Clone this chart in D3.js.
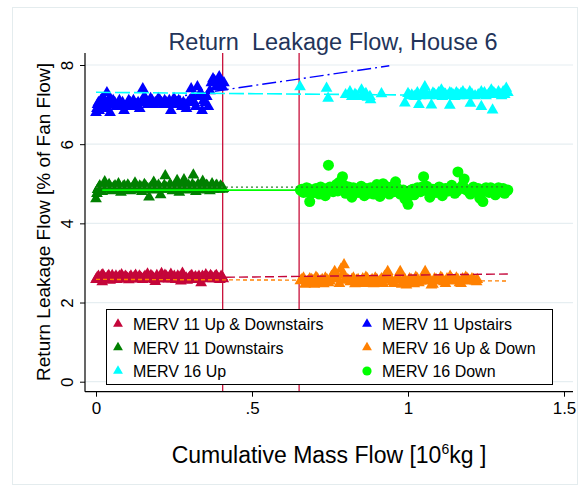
<!DOCTYPE html>
<html><head><meta charset="utf-8">
<script src="https://cdn.jsdelivr.net/npm/d3@7"></script>
<style>
body{margin:0;background:#fff}
svg{display:block}
text{font-family:"Liberation Sans",Arial,Helvetica,sans-serif}
</style>
</head><body>
<svg id="chart" width="586" height="487"></svg>
<script>
// ---------- data ----------
const titleText = "Return  Leakage Flow, House 6";
const xTicks = [0, 0.5, 1, 1.5];
const xTickLabels = ["0", ".5", "1", "1.5"];
const yTicks = [0, 2, 4, 6, 8];
const yTickLabels = ["0", "2", "4", "6", "8"];
const filterChanges = [0.406, 0.651];

const merv11UpDown = [
[0.000,2.58],[0.008,2.66],[0.015,2.62],[0.020,2.52],[0.022,2.70],[0.030,2.60],[0.037,2.65],[0.045,2.56],[0.052,2.68],
[0.060,2.62],[0.067,2.58],[0.075,2.66],[0.082,2.70],[0.090,2.60],[0.097,2.64],[0.105,2.57],[0.112,2.67],
[0.120,2.62],[0.127,2.69],[0.135,2.60],[0.142,2.64],[0.150,2.58],[0.157,2.66],[0.165,2.72],[0.172,2.61],
[0.180,2.65],[0.187,2.58],[0.190,2.53],[0.195,2.68],[0.202,2.62],[0.210,2.73],[0.217,2.60],[0.225,2.66],[0.232,2.59],
[0.240,2.71],[0.247,2.63],[0.255,2.58],[0.262,2.67],[0.270,2.61],[0.272,2.54],[0.277,2.74],[0.285,2.60],[0.292,2.56],
[0.300,2.64],[0.307,2.68],[0.315,2.62],[0.322,2.58],[0.330,2.66],[0.337,2.50],[0.345,2.63],[0.352,2.70],
[0.360,2.62],[0.367,2.68],[0.375,2.60],[0.382,2.66],[0.390,2.62],[0.397,2.58],[0.405,2.64],
[0.004,2.63],[0.012,2.60],[0.018,2.68],[0.026,2.64],[0.034,2.58],[0.041,2.68],[0.048,2.62],[0.056,2.60],
[0.064,2.67],[0.071,2.62],[0.079,2.60],[0.086,2.64],[0.094,2.66],[0.101,2.61],[0.108,2.63],[0.116,2.59],
[0.124,2.65],[0.131,2.62],[0.139,2.67],[0.146,2.61],[0.154,2.63],[0.161,2.60],[0.169,2.65],[0.176,2.68],
[0.184,2.62],[0.199,2.60],[0.206,2.65],[0.214,2.63],[0.221,2.69],[0.229,2.62],[0.236,2.65],[0.244,2.60],
[0.251,2.66],[0.259,2.62],[0.266,2.64],[0.281,2.66],[0.289,2.62],[0.296,2.60],[0.304,2.66],[0.311,2.60],
[0.319,2.65],[0.326,2.62],[0.334,2.60],[0.341,2.66],[0.349,2.61],[0.356,2.64],[0.364,2.60],[0.371,2.65],
[0.379,2.62],[0.386,2.68],[0.394,2.60],[0.401,2.66],[0.408,2.60]
];
const merv11Up = [
[0.000,6.80],[0.005,7.00],[0.010,6.85],[0.015,7.10],[0.020,7.15],[0.025,6.90],[0.030,7.05],[0.035,7.30],
[0.040,7.10],[0.045,6.80],[0.050,7.00],[0.060,7.05],[0.070,7.00],[0.080,6.95],[0.090,6.85],[0.100,7.00],
[0.110,7.05],[0.120,7.10],[0.130,7.00],[0.140,6.90],[0.150,7.40],[0.155,7.20],[0.160,7.10],[0.170,7.05],
[0.180,7.10],[0.190,7.05],[0.200,7.15],[0.210,7.05],[0.220,7.10],[0.230,7.00],[0.240,6.85],[0.250,7.15],
[0.260,7.00],[0.270,7.05],[0.280,7.05],[0.290,6.90],[0.300,7.10],[0.305,7.40],[0.310,7.20],[0.320,6.95],
[0.325,7.45],[0.330,7.20],[0.340,6.85],[0.350,7.05],[0.360,6.95],[0.370,7.55],[0.375,7.65],[0.380,7.60],
[0.390,7.55],[0.395,7.70],[0.400,7.60],[0.410,7.55],
[0.003,6.90],[0.008,7.05],[0.012,6.95],[0.018,7.00],[0.028,7.10],[0.033,6.95],[0.043,7.15],[0.055,7.10],
[0.065,6.95],[0.075,7.10],[0.085,7.05],[0.095,6.95],[0.105,7.10],[0.115,6.95],[0.125,7.00],[0.135,7.05],
[0.145,7.05],[0.165,7.00],[0.175,7.15],[0.185,7.00],[0.195,7.05],[0.205,7.10],[0.215,7.00],[0.225,7.05],
[0.235,7.10],[0.245,7.00],[0.255,7.05],[0.265,7.10],[0.275,6.95],[0.285,7.00],[0.295,7.05],[0.315,7.05],
[0.335,7.30],[0.345,7.10],[0.355,7.20],[0.365,7.35],[0.385,7.45],[0.405,7.45]
];
const merv11Down = [
[0.000,4.62],[0.005,4.85],[0.012,4.95],[0.020,4.80],[0.028,5.05],[0.035,4.88],[0.042,4.98],[0.050,4.82],
[0.057,4.92],[0.065,4.85],[0.072,5.00],[0.080,4.78],[0.087,4.93],[0.095,4.86],[0.102,4.97],[0.110,4.82],
[0.117,4.90],[0.125,5.02],[0.132,4.84],[0.140,4.94],[0.147,4.80],[0.155,4.98],[0.162,4.86],[0.170,4.66],
[0.177,4.92],[0.185,5.04],[0.192,4.84],[0.200,4.96],[0.207,4.72],[0.215,4.90],[0.222,5.20],[0.230,4.86],
[0.237,4.98],[0.245,4.82],[0.252,4.92],[0.260,5.08],[0.267,4.78],[0.275,4.94],[0.282,5.10],[0.290,4.84],
[0.297,4.96],[0.305,4.88],[0.312,5.22],[0.320,4.80],[0.327,4.98],[0.335,4.86],[0.342,5.06],[0.350,4.84],
[0.357,4.94],[0.365,4.82],[0.372,5.00],[0.380,4.88],[0.387,4.96],[0.395,4.86],[0.402,4.92],[0.408,4.88],
[0.003,4.75],[0.009,4.90],[0.016,4.88],[0.024,4.92],[0.031,4.90],[0.039,4.86],[0.046,4.92],[0.054,4.88],
[0.061,4.95],[0.069,4.88],[0.076,4.92],[0.084,4.86],[0.091,4.95],[0.099,4.88],[0.106,4.92],[0.114,4.86],
[0.121,4.94],[0.129,4.90],[0.136,4.88],[0.144,4.92],[0.151,4.86],[0.159,4.94],[0.166,4.88],[0.174,4.90],
[0.181,4.86],[0.189,4.94],[0.196,4.88],[0.204,4.92],[0.211,4.86],[0.219,4.96],[0.226,4.90],[0.234,4.88],
[0.241,4.94],[0.249,4.86],[0.256,4.96],[0.264,4.88],[0.271,4.92],[0.279,4.86],[0.286,4.96],[0.294,4.90],
[0.301,4.86],[0.309,4.98],[0.316,4.92],[0.324,4.88],[0.331,4.94],[0.339,4.90],[0.346,4.86],[0.354,4.96],
[0.361,4.88],[0.369,4.92],[0.376,4.86],[0.384,4.94],[0.391,4.88],[0.399,4.94],[0.405,4.86]
];
const merv16Up = [
[0.654,7.45],[0.739,7.41],[0.744,7.16],[0.800,7.25],[0.814,7.32],[0.820,7.20],[0.830,7.26],[0.851,7.37],
[0.850,7.20],[0.865,7.28],[0.878,7.20],[0.880,7.12],[0.915,7.27],[0.990,7.04],[1.005,7.22],[1.020,7.21],
[1.030,7.30],[1.035,7.00],[1.045,7.26],[1.054,7.45],[1.060,7.25],[1.075,6.99],[1.080,7.29],[1.090,7.22],
[1.107,7.37],[1.110,7.20],[1.120,7.26],[1.134,6.98],[1.134,7.30],[1.145,7.24],[1.155,7.30],[1.165,7.22],
[1.176,7.32],[1.185,7.25],[1.198,7.32],[1.200,7.03],[1.215,7.22],[1.235,7.32],[1.235,6.95],[1.250,7.22],
[1.267,7.37],[1.271,6.86],[1.280,7.25],[1.290,7.32],[1.300,7.22],[1.315,7.41],[1.310,7.25],[1.320,7.30],
[1.000,7.28],[1.012,7.24],[1.025,7.20],[1.040,7.22],[1.050,7.30],[1.068,7.22],[1.085,7.26],[1.098,7.30],
[1.115,7.28],[1.128,7.22],[1.140,7.28],[1.150,7.20],[1.160,7.26],[1.170,7.28],[1.190,7.22],[1.205,7.26],
[1.225,7.25],[1.245,7.30],[1.258,7.26],[1.275,7.30],[1.295,7.26],[1.305,7.32],[0.835,7.22],[0.860,7.24],
[0.870,7.18]
];
const merv16UpDown = [
[0.655,2.55],[0.665,2.62],[0.675,2.50],[0.685,2.60],[0.695,2.56],[0.705,2.64],[0.715,2.48],[0.725,2.58],
[0.735,2.62],[0.745,2.50],[0.755,2.66],[0.765,2.78],[0.775,2.60],[0.785,2.84],[0.795,2.95],[0.805,2.58],
[0.815,2.52],[0.825,2.62],[0.835,2.56],[0.845,2.48],[0.855,2.60],[0.865,2.64],[0.875,2.52],[0.885,2.58],
[0.895,2.62],[0.905,2.50],[0.915,2.60],[0.925,2.66],[0.935,2.78],[0.945,2.56],[0.955,2.48],[0.965,2.62],
[0.975,2.78],[0.985,2.58],[0.995,2.44],[1.005,2.60],[1.015,2.54],[1.025,2.64],[1.035,2.50],[1.045,2.62],
[1.055,2.78],[1.065,2.58],[1.075,2.44],[1.085,2.60],[1.095,2.54],[1.105,2.64],[1.115,2.52],[1.125,2.60],
[1.135,2.66],[1.145,2.54],[1.155,2.62],[1.165,2.50],[1.175,2.60],[1.185,2.64],[1.195,2.56],[1.205,2.60],
[1.215,2.54],[1.222,2.58],
[0.660,2.58],[0.670,2.46],[0.680,2.54],[0.690,2.58],[0.700,2.46],[0.710,2.60],[0.720,2.54],[0.730,2.47],
[0.740,2.58],[0.750,2.54],[0.760,2.60],[0.770,2.66],[0.780,2.48],[0.790,2.70],[0.800,2.62],[0.810,2.56],
[0.820,2.58],[0.830,2.47],[0.840,2.58],[0.850,2.54],[0.860,2.48],[0.870,2.60],[0.880,2.54],[0.890,2.47],
[0.900,2.58],[0.910,2.54],[0.920,2.48],[0.930,2.60],[0.940,2.66],[0.950,2.52],[0.960,2.56],[0.970,2.60],
[0.980,2.46],[0.990,2.58],[1.000,2.52],[1.010,2.58],[1.020,2.47],[1.030,2.60],[1.040,2.54],[1.050,2.66],
[1.060,2.54],[1.070,2.58],[1.080,2.46],[1.090,2.58],[1.100,2.56],[1.110,2.60],[1.120,2.48],[1.130,2.58],
[1.140,2.60],[1.150,2.56],[1.160,2.58],[1.170,2.48],[1.180,2.56],[1.190,2.60],[1.200,2.54],[1.210,2.58],
[1.220,2.52]
];
const merv16Down = [
[0.655,4.84],[0.665,4.78],[0.675,4.90],[0.685,4.55],[0.695,4.82],[0.705,4.88],[0.715,4.74],[0.725,4.86],
[0.735,4.70],[0.745,5.47],[0.750,4.92],[0.760,4.80],[0.770,4.98],[0.780,5.04],[0.790,5.18],[0.800,4.76],
[0.810,4.92],[0.820,4.66],[0.830,4.86],[0.840,4.78],[0.850,4.94],[0.860,4.70],[0.870,4.84],[0.880,4.90],
[0.890,4.74],[0.900,4.98],[0.910,4.68],[0.920,5.00],[0.930,4.82],[0.940,4.74],[0.950,4.92],[0.960,5.05],
[0.970,4.86],[0.980,4.78],[0.990,4.62],[1.000,4.48],[1.010,4.84],[1.020,4.72],[1.030,4.90],[1.040,4.80],
[1.050,5.18],[1.060,4.94],[1.070,4.66],[1.080,4.86],[1.090,4.78],[1.100,4.92],[1.110,4.70],[1.120,4.88],
[1.130,4.82],[1.140,4.96],[1.150,4.76],[1.160,5.30],[1.170,4.90],[1.180,5.12],[1.190,4.84],[1.200,4.74],
[1.210,4.92],[1.220,4.80],[1.230,4.64],[1.240,4.55],[1.250,4.90],[1.260,4.78],[1.270,4.86],[1.280,4.72],
[1.290,4.90],[1.300,4.82],[1.310,4.76],[1.320,4.84],
[0.660,4.86],[0.670,4.80],[0.680,4.88],[0.690,4.76],[0.700,4.84],[0.710,4.80],[0.720,4.92],[0.730,4.82],
[0.740,4.88],[0.755,4.84],[0.765,4.90],[0.775,4.82],[0.785,4.92],[0.795,4.96],[0.805,4.86],[0.815,4.80],
[0.825,4.90],[0.835,4.82],[0.845,4.86],[0.855,4.80],[0.865,4.88],[0.875,4.76],[0.885,4.84],[0.895,4.80],
[0.905,4.88],[0.915,4.82],[0.925,4.86],[0.935,4.92],[0.945,4.84],[0.955,4.80],[0.965,4.88],[0.975,4.74],
[0.985,4.84],[0.995,4.80],[1.005,4.70],[1.015,4.86],[1.025,4.80],[1.035,4.84],[1.045,4.92],[1.055,4.88],
[1.065,4.80],[1.075,4.86],[1.085,4.82],[1.095,4.88],[1.105,4.80],[1.115,4.86],[1.125,4.82],[1.135,4.90],
[1.145,4.84],[1.155,4.80],[1.165,4.88],[1.175,4.96],[1.185,4.86],[1.195,4.80],[1.205,4.86],[1.215,4.82],
[1.225,4.88],[1.235,4.76],[1.245,4.84],[1.255,4.82],[1.265,4.90],[1.275,4.80],[1.285,4.86],[1.295,4.80],
[1.305,4.88],[1.315,4.82]
];

// linear-fit endpoints
const fitMerv11UpDown = [[0.000,2.60],[1.320,2.72]];
const fitMerv16UpDown = [[0.000,2.585],[1.320,2.545]];
const fitMerv11Up     = [[0.000,6.90],[0.940,7.98]];
const fitMerv16Up     = [[0.000,7.31],[1.320,7.22]];
const fitMerv11Down   = [[0.000,4.91],[1.310,4.92]];
const fitMerv16Down   = [[0.020,4.84],[1.320,4.84]];

const legendLabels = ["MERV 11 Up & Downstairs","MERV 11 Upstairs","MERV 11 Downstairs",
                      "MERV 16 Up & Down","MERV 16 Up","MERV 16 Down"];

// ---------- drawing ----------
const svg = d3.select("#chart");
const x = d3.scaleLinear().domain([0, 1.5]).range([96, 564]);
const y = d3.scaleLinear().domain([0, 8]).range([381.7, 65]);
const plotL = 85, plotR = 573, plotT = 53, plotB = 391.7;

// graph region frame
svg.append("rect").attr("x",12.5).attr("y",7.5).attr("width",565).attr("height",477)
  .attr("fill","#fff").attr("stroke","#e4ecee").attr("stroke-width",1);

// grid
svg.append("g").selectAll("line").data(yTicks).join("line")
  .attr("x1",plotL).attr("x2",plotR).attr("y1",d=>y(d)).attr("y2",d=>y(d))
  .attr("stroke","#e6eef1").attr("stroke-width",1.2);

// vertical filter change lines
svg.append("g").selectAll("line").data(filterChanges).join("line")
  .attr("x1",d=>x(d)).attr("x2",d=>x(d)).attr("y1",plotT).attr("y2",plotB)
  .attr("stroke","#c8103a").attr("stroke-width",1.3);

const colors = {
  m11ud:"#c4063a", m11u:"#0000ff", m11d:"#008000",
  m16ud:"#ff8000", m16u:"#00ffff", m16d:"#00ff00"
};
const tri = d3.symbol().type(d3.symbolTriangle).size(60);
function triangles(data, color){
  svg.append("g").selectAll("path").data(data).join("path")
    .attr("d", tri).attr("transform", d=>`translate(${x(d[0])},${y(d[1])})`)
    .attr("fill", color);
}
triangles(merv11UpDown, colors.m11ud);
triangles(merv11Up, colors.m11u);
triangles(merv11Down, colors.m11d);
triangles(merv16Up, colors.m16u);
triangles(merv16UpDown, colors.m16ud);
svg.append("g").selectAll("circle").data(merv16Down).join("circle")
  .attr("cx",d=>x(d[0])).attr("cy",d=>y(d[1])).attr("r",5.5).attr("fill",colors.m16d);

// fit lines
const line = d3.line().x(d=>x(d[0])).y(d=>y(d[1]));
function fit(data, color, dash, w){
  svg.append("path").datum(data).attr("d", line).attr("fill","none")
    .attr("stroke", color).attr("stroke-width", w||1.4).attr("stroke-dasharray", dash);
}
fit(fitMerv11UpDown, colors.m11ud, "9,4");
fit(fitMerv11Up, colors.m11u, "14,4,2,4");
fit(fitMerv11Down, "#2e7d2e", "2,3", 1.3);
fit(fitMerv16Up, colors.m16u, "15,4", 1.6);
fit(fitMerv16UpDown, colors.m16ud, "4,3");
fit(fitMerv16Down, colors.m16d, null, 1.6);

// axes
const xAxis = d3.axisBottom(x).tickValues(xTicks).tickSize(5).tickPadding(5)
  .tickFormat((d,i)=>xTickLabels[i]);
const gx = svg.append("g").attr("transform",`translate(0,${plotB})`).call(xAxis);
gx.select(".domain").remove();
gx.selectAll("text").attr("font-size",17).attr("fill","#000")
  .style("font-family",'"Liberation Sans",Arial,sans-serif');
gx.selectAll("line").attr("stroke","#000");
svg.append("line").attr("x1",plotL).attr("x2",plotR).attr("y1",plotB).attr("y2",plotB)
  .attr("stroke","#000").attr("stroke-width",1.2);

const yAxis = d3.axisLeft(y).tickValues(yTicks).tickSize(5).tickFormat((d,i)=>yTickLabels[i]);
const gy = svg.append("g").attr("transform",`translate(${plotL},0)`).call(yAxis);
gy.select(".domain").remove();
gy.selectAll("line").attr("stroke","#000");
gy.selectAll("text").attr("font-size",17).attr("fill","#000")
  .attr("transform","rotate(-90)").attr("x",0).attr("y",-12.5).attr("dy",0)
  .attr("text-anchor","middle")
  .style("font-family",'"Liberation Sans",Arial,sans-serif');
svg.append("line").attr("x1",plotL).attr("x2",plotL).attr("y1",plotT).attr("y2",plotB)
  .attr("stroke","#000").attr("stroke-width",1.2);

// title
svg.append("text").attr("x",333).attr("y",50).attr("text-anchor","middle")
  .attr("font-size",23.5).attr("fill","#23345a").style("white-space","pre")
  .attr("xml:space","preserve").text(titleText);

// axis titles
const xt = svg.append("text").attr("x",329).attr("y",463).attr("text-anchor","middle")
  .attr("font-size",23).attr("fill","#000");
xt.append("tspan").text("Cumulative Mass Flow [10");
xt.append("tspan").attr("font-size",14).attr("dy",-9).text("6");
xt.append("tspan").attr("dy",9).text("kg ]");

svg.append("text").attr("transform","translate(50,222) rotate(-90)").attr("text-anchor","middle")
  .attr("font-size",19).attr("fill","#000").text("Return Leakage Flow [% of Fan Flow]");

// legend
const lg = svg.append("g");
lg.append("rect").attr("x",106.5).attr("y",309.5).attr("width",446).attr("height",75)
  .attr("fill","#fff").attr("stroke","#000").attr("stroke-width",1);
const legendItems = [
  {label:legendLabels[0], color:colors.m11ud, shape:"t", col:0, row:0},
  {label:legendLabels[1], color:colors.m11u,  shape:"t", col:1, row:0},
  {label:legendLabels[2], color:colors.m11d,  shape:"t", col:0, row:1},
  {label:legendLabels[3], color:colors.m16ud, shape:"t", col:1, row:1},
  {label:legendLabels[4], color:colors.m16u,  shape:"t", col:0, row:2},
  {label:legendLabels[5], color:colors.m16d,  shape:"c", col:1, row:2}
];
const colX = [118, 367], rowY = [324, 347.5, 371];
const ltri = d3.symbol().type(d3.symbolTriangle).size(42);
legendItems.forEach(it=>{
  const cx = colX[it.col], cy = rowY[it.row];
  if(it.shape==="t"){
    lg.append("path").attr("d",ltri).attr("transform",`translate(${cx},${cy})`).attr("fill",it.color);
  } else {
    lg.append("circle").attr("cx",cx).attr("cy",cy).attr("r",4.6).attr("fill",it.color);
  }
  lg.append("text").attr("x",cx+15).attr("y",cy+6).attr("font-size",16).attr("fill","#000").text(it.label);
});
</script>
</body></html>
